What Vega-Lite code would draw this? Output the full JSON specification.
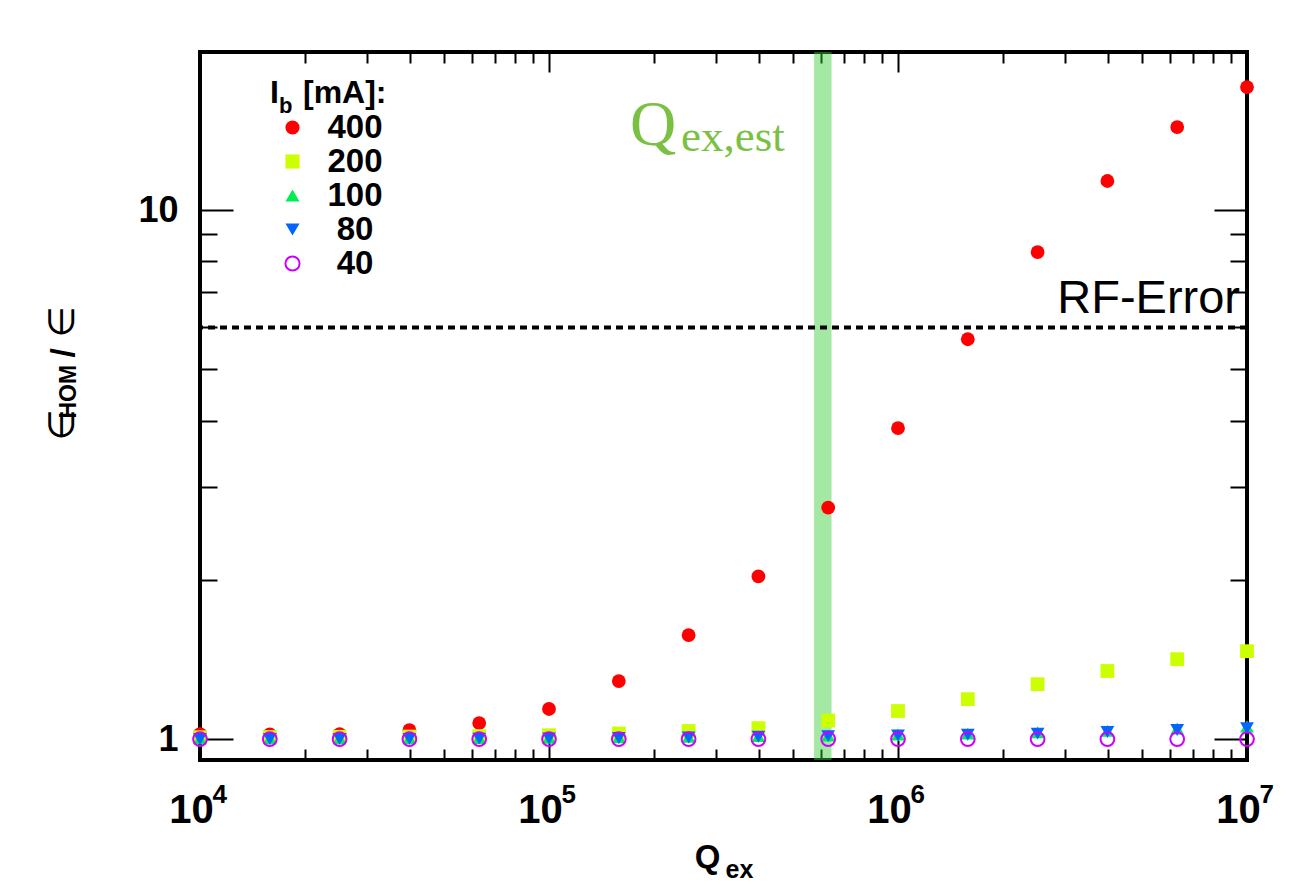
{
  "$schema": "https://vega.github.io/schema/vega-lite/v6.json",
  "width": 1047,
  "height": 708,
  "autosize": {"type": "none"},
  "padding": {"left": 200, "top": 52, "right": 61, "bottom": 134},
  "background": "white",
  "config": {
    "view": {"stroke": "black", "strokeWidth": 4},
    "font": "Liberation Sans",
    "axis": {"domain": false, "grid": false, "tickColor": "black", "tickWidth": 2, "labelColor": "black", "titleColor": "black", "labelOverlap": false, "labelFlush": false, "labelBound": false},
    "legend": {"symbolSize": 200, "symbolStrokeWidth": 2}
  },
  "resolve": {"axis": {"x": "independent", "y": "independent"}},
  "layer": [
    {
      "data": {"values": [{"lo": 575000, "hi": 645000}]},
      "mark": {"type": "rect", "color": "#33cc33", "opacity": 0.45},
      "encoding": {
        "x": {"field": "lo", "type": "quantitative",
          "scale": {"type": "log", "domain": [10000, 10000000], "nice": false},
          "axis": {"orient": "top", "values": [10000,20000,30000,40000,50000,60000,70000,80000,90000,100000,200000,300000,400000,500000,600000,700000,800000,900000,1000000,2000000,3000000,4000000,5000000,6000000,7000000,8000000,9000000,10000000],
            "labels": false, "title": null,
            "tickSize": {"condition": {"test": "datum.value == 10000 || datum.value == 100000 || datum.value == 1000000 || datum.value == 10000000", "value": -20}, "value": -11}}},
        "x2": {"field": "hi"}
      }
    },
    {
      "data": {"values": [{"v": 6.0}]},
      "mark": {"type": "rule", "strokeDash": [7, 5], "strokeWidth": 4, "color": "black"},
      "encoding": {
        "y": {"field": "v", "type": "quantitative",
          "scale": {"type": "log", "domain": [0.913, 19.9], "nice": false},
          "axis": {"orient": "right", "values": [1,2,3,4,5,6,7,8,9,10], "labels": false, "title": null,
            "tickSize": {"condition": {"test": "datum.value == 1 || datum.value == 10", "value": -33}, "value": -17}}}
      }
    },
    {
      "data": {"values": [
        {"Q": 10000, "r": 1.022, "Ib": "400"}, {"Q": 15849, "r": 1.021, "Ib": "400"}, {"Q": 25119, "r": 1.022, "Ib": "400"}, {"Q": 39811, "r": 1.04, "Ib": "400"},
        {"Q": 63096, "r": 1.072, "Ib": "400"}, {"Q": 100000, "r": 1.14, "Ib": "400"}, {"Q": 158489, "r": 1.287, "Ib": "400"}, {"Q": 251189, "r": 1.572, "Ib": "400"},
        {"Q": 398107, "r": 2.03, "Ib": "400"}, {"Q": 630957, "r": 2.74, "Ib": "400"}, {"Q": 1000000, "r": 3.87, "Ib": "400"}, {"Q": 1584893, "r": 5.7, "Ib": "400"},
        {"Q": 2511886, "r": 8.33, "Ib": "400"}, {"Q": 3981072, "r": 11.35, "Ib": "400"}, {"Q": 6309573, "r": 14.35, "Ib": "400"}, {"Q": 10000000, "r": 17.08, "Ib": "400"},
        {"Q": 10000, "r": 1.008, "Ib": "200"}, {"Q": 15849, "r": 1.009, "Ib": "200"}, {"Q": 25119, "r": 1.01, "Ib": "200"}, {"Q": 39811, "r": 1.011, "Ib": "200"},
        {"Q": 63096, "r": 1.013, "Ib": "200"}, {"Q": 100000, "r": 1.017, "Ib": "200"}, {"Q": 158489, "r": 1.025, "Ib": "200"}, {"Q": 251189, "r": 1.036, "Ib": "200"},
        {"Q": 398107, "r": 1.049, "Ib": "200"}, {"Q": 630957, "r": 1.084, "Ib": "200"}, {"Q": 1000000, "r": 1.13, "Ib": "200"}, {"Q": 1584893, "r": 1.19, "Ib": "200"},
        {"Q": 2511886, "r": 1.27, "Ib": "200"}, {"Q": 3981072, "r": 1.345, "Ib": "200"}, {"Q": 6309573, "r": 1.416, "Ib": "200"}, {"Q": 10000000, "r": 1.466, "Ib": "200"},
        {"Q": 10000, "r": 1.003, "Ib": "100"}, {"Q": 15849, "r": 1.003, "Ib": "100"}, {"Q": 25119, "r": 1.004, "Ib": "100"}, {"Q": 39811, "r": 1.004, "Ib": "100"},
        {"Q": 63096, "r": 1.005, "Ib": "100"}, {"Q": 100000, "r": 1.006, "Ib": "100"}, {"Q": 158489, "r": 1.008, "Ib": "100"}, {"Q": 251189, "r": 1.01, "Ib": "100"},
        {"Q": 398107, "r": 1.013, "Ib": "100"}, {"Q": 630957, "r": 1.016, "Ib": "100"}, {"Q": 1000000, "r": 1.02, "Ib": "100"}, {"Q": 1584893, "r": 1.024, "Ib": "100"},
        {"Q": 2511886, "r": 1.03, "Ib": "100"}, {"Q": 3981072, "r": 1.037, "Ib": "100"}, {"Q": 6309573, "r": 1.047, "Ib": "100"}, {"Q": 10000000, "r": 1.056, "Ib": "100"},
        {"Q": 10000, "r": 1.0, "Ib": "80"}, {"Q": 15849, "r": 1.0, "Ib": "80"}, {"Q": 25119, "r": 1.001, "Ib": "80"}, {"Q": 39811, "r": 1.001, "Ib": "80"},
        {"Q": 63096, "r": 1.002, "Ib": "80"}, {"Q": 100000, "r": 1.003, "Ib": "80"}, {"Q": 158489, "r": 1.005, "Ib": "80"}, {"Q": 251189, "r": 1.007, "Ib": "80"},
        {"Q": 398107, "r": 1.01, "Ib": "80"}, {"Q": 630957, "r": 1.013, "Ib": "80"}, {"Q": 1000000, "r": 1.016, "Ib": "80"}, {"Q": 1584893, "r": 1.019, "Ib": "80"},
        {"Q": 2511886, "r": 1.024, "Ib": "80"}, {"Q": 3981072, "r": 1.031, "Ib": "80"}, {"Q": 6309573, "r": 1.04, "Ib": "80"}, {"Q": 10000000, "r": 1.048, "Ib": "80"},
        {"Q": 10000, "r": 1.0, "Ib": "40"}, {"Q": 15849, "r": 1.0, "Ib": "40"}, {"Q": 25119, "r": 1.0, "Ib": "40"}, {"Q": 39811, "r": 1.0, "Ib": "40"},
        {"Q": 63096, "r": 1.0, "Ib": "40"}, {"Q": 100000, "r": 1.0, "Ib": "40"}, {"Q": 158489, "r": 1.0, "Ib": "40"}, {"Q": 251189, "r": 1.0, "Ib": "40"},
        {"Q": 398107, "r": 1.0, "Ib": "40"}, {"Q": 630957, "r": 1.0, "Ib": "40"}, {"Q": 1000000, "r": 1.0, "Ib": "40"}, {"Q": 1584893, "r": 1.0, "Ib": "40"},
        {"Q": 2511886, "r": 1.0, "Ib": "40"}, {"Q": 3981072, "r": 1.0, "Ib": "40"}, {"Q": 6309573, "r": 1.0, "Ib": "40"}, {"Q": 10000000, "r": 1.0, "Ib": "40"}
      ]},
      "mark": {"type": "point", "filled": false, "strokeWidth": 2, "opacity": 1, "size": 190},
      "encoding": {
        "x": {"field": "Q", "type": "quantitative",
          "scale": {"type": "log", "domain": [10000, 10000000], "nice": false},
          "axis": {"orient": "bottom", "values": [10000,20000,30000,40000,50000,60000,70000,80000,90000,100000,200000,300000,400000,500000,600000,700000,800000,900000,1000000,2000000,3000000,4000000,5000000,6000000,7000000,8000000,9000000,10000000],
            "labelExpr": "indexof([10000,100000,1000000,10000000], datum.value) >= 0 ? '10' : ''",
            "labelFontSize": 40, "labelFontWeight": "bold", "labelAlign": "center", "labelOffset": -9, "labelBaseline": "alphabetic", "labelPadding": 82,
            "title": "Q", "titleFontSize": 33, "titleFontWeight": "bold", "titleAlign": "center", "titleBaseline": "alphabetic", "titleX": 507, "titleY": 107,
            "tickSize": {"condition": {"test": "datum.value == 10000 || datum.value == 100000 || datum.value == 1000000 || datum.value == 10000000", "value": -20}, "value": -11}}},
        "y": {"field": "r", "type": "quantitative",
          "scale": {"type": "log", "domain": [0.913, 19.9], "nice": false},
          "axis": {"orient": "left", "values": [1,2,3,4,5,6,7,8,9,10],
            "labelExpr": "datum.value == 1 ? '1' : datum.value == 10 ? '10' : ''",
            "labelFontSize": 36, "labelFontWeight": "bold", "labelPadding": 55, "labelBaseline": "middle",
            "title": "∈", "titleFont": "DejaVu Sans", "titleFontSize": 36, "titleFontWeight": "normal", "titleAngle": 270, "titleAlign": "left", "titleBaseline": "alphabetic", "titleX": -127, "titleY": 388,
            "tickSize": {"condition": {"test": "datum.value == 1 || datum.value == 10", "value": -33}, "value": -17}}},
        "shape": {"field": "Ib", "type": "nominal",
          "scale": {"domain": ["400", "200", "100", "80", "40"], "range": ["circle", "square", "triangle-up", "triangle-down", "circle"]},
          "legend": {"title": null, "orient": "none", "legendX": 76, "legendY": 59, "padding": 0, "labelFontSize": 33, "labelFontWeight": "bold", "labelColor": "black", "labelAlign": "center", "labelOffset": 46, "rowPadding": 0, "symbolSize": 200, "symbolStrokeWidth": 2, "labelLimit": 200}},
        "fill": {"field": "Ib", "type": "nominal",
          "scale": {"domain": ["400", "200", "100", "80", "40"], "range": ["#ff0000", "#ccff00", "#00ee55", "#0066ff", "transparent"]}},
        "stroke": {"field": "Ib", "type": "nominal",
          "scale": {"domain": ["400", "200", "100", "80", "40"], "range": ["transparent", "transparent", "transparent", "transparent", "#cc00ff"]}}
      }
    },
    {
      "data": {"values": [{"Q": 9550000, "v": 6.39, "t": "RF-Error"}]},
      "mark": {"type": "text", "align": "right", "baseline": "alphabetic", "fontSize": 47, "font": "Liberation Sans", "color": "black"},
      "encoding": {
        "x": {"field": "Q", "type": "quantitative",
          "axis": {"orient": "bottom", "values": [10000, 100000, 1000000, 10000000], "ticks": false,
            "labelExpr": "'' + round(log(datum.value) / LN10)",
            "labelFontSize": 26, "labelFontWeight": "bold", "labelAlign": "left", "labelOffset": 12, "labelBaseline": "alphabetic", "labelPadding": 42,
            "title": "ex", "titleFontSize": 25, "titleFontWeight": "bold", "titleAlign": "left", "titleBaseline": "alphabetic", "titleX": 525, "titleY": 117}},
        "y": {"field": "v", "type": "quantitative",
          "axis": {"orient": "left", "labels": false, "ticks": false,
            "title": "HOM", "titleFontSize": 23, "titleFontWeight": "bold", "titleAngle": 270, "titleAlign": "left", "titleBaseline": "alphabetic", "titleX": -125, "titleY": 366}},
        "text": {"field": "t"}
      }
    },
    {
      "data": {"values": [{"Q": 170600, "v": 13.27, "t": "Q"}]},
      "mark": {"type": "text", "align": "left", "baseline": "alphabetic", "fontSize": 64, "font": "Liberation Serif", "color": "#7ac143"},
      "encoding": {
        "x": {"field": "Q", "type": "quantitative", "axis": null},
        "y": {"field": "v", "type": "quantitative",
          "axis": {"orient": "left", "labels": false, "ticks": false,
            "title": "/", "titleFontSize": 34, "titleFontWeight": "bold", "titleAngle": 270, "titleAlign": "left", "titleBaseline": "alphabetic", "titleX": -127, "titleY": 305}},
        "text": {"field": "t"}
      }
    },
    {
      "data": {"values": [{"Q": 239000, "v": 12.93, "t": "ex,est"}]},
      "mark": {"type": "text", "align": "left", "baseline": "alphabetic", "fontSize": 45, "font": "Liberation Serif", "color": "#7ac143"},
      "encoding": {
        "x": {"field": "Q", "type": "quantitative", "axis": null},
        "y": {"field": "v", "type": "quantitative",
          "axis": {"orient": "left", "labels": false, "ticks": false,
            "title": "∈", "titleFont": "DejaVu Sans", "titleFontSize": 36, "titleFontWeight": "normal", "titleAngle": 270, "titleAlign": "left", "titleBaseline": "alphabetic", "titleX": -127, "titleY": 285}},
        "text": {"field": "t"}
      }
    },
    {
      "data": {"values": [{"Q": 15870, "v": 15.93, "t": "I"}, {"Q": 19730, "v": 15.93, "t": "[mA]:"}]},
      "mark": {"type": "text", "align": "left", "baseline": "alphabetic", "fontSize": 32, "fontWeight": "bold", "font": "Liberation Sans", "color": "black"},
      "encoding": {
        "x": {"field": "Q", "type": "quantitative", "axis": null},
        "y": {"field": "v", "type": "quantitative", "axis": null},
        "text": {"field": "t"}
      }
    },
    {
      "data": {"values": [{"Q": 16840, "v": 15.26, "t": "b"}]},
      "mark": {"type": "text", "align": "left", "baseline": "alphabetic", "fontSize": 22, "fontWeight": "bold", "font": "Liberation Sans", "color": "black"},
      "encoding": {
        "x": {"field": "Q", "type": "quantitative", "axis": null},
        "y": {"field": "v", "type": "quantitative", "axis": null},
        "text": {"field": "t"}
      }
    }
  ]
}
